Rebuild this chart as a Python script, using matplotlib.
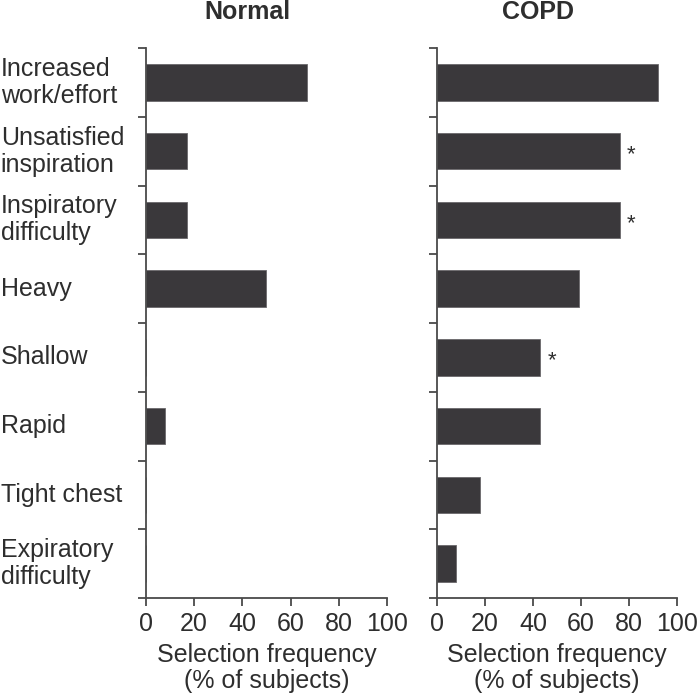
import numpy as np
import matplotlib.pyplot as plt
from matplotlib.transforms import blended_transform_factory

# ---------------------------------------------------------------------------
# Data
# ---------------------------------------------------------------------------
categories = ["Increased\nwork/effort", "Unsatisfied\ninspiration",
              "Inspiratory\ndifficulty", "Heavy", "Shallow", "Rapid",
              "Tight chest", "Expiratory\ndifficulty"]
normal_vals = [67, 17, 17, 50, 0, 8, 0, 0]
copd_vals = [92, 76, 76, 59, 43, 43, 18, 8]
copd_sig = [False, True, True, False, True, False, False, False]
panel_titles = ["Normal", "COPD"]
xticks = [0, 20, 40, 60, 80, 100]
xlabel = "Selection frequency\n(% of subjects)"

BAR_COLOR = "#3a383b"
TEXT_COLOR = "#2e2e2e"
SPINE_COLOR = "#4a4a4a"
FS = 18

plt.rcParams["font.family"] = ["Liberation Sans", "DejaVu Sans"]

fig = plt.figure(figsize=(7, 7), dpi=100)
ax_l = fig.add_axes([0.2086, 0.1457, 0.344, 0.7857])
ax_r = fig.add_axes([0.6239, 0.1457, 0.3437, 0.7857])

n = len(categories)
ypos = np.arange(n)

for ax, vals, title in [(ax_l, normal_vals, panel_titles[0]),
                        (ax_r, copd_vals, panel_titles[1])]:
    ax.barh(ypos, vals, height=0.53, color=BAR_COLOR,
            edgecolor="#6a686b", linewidth=0.6)
    ax.set_xlim(0, 100)
    ax.set_ylim(n - 0.5, -0.5)
    ax.spines["top"].set_visible(False)
    ax.spines["right"].set_visible(False)
    for s in ("left", "bottom"):
        ax.spines[s].set_color(SPINE_COLOR)
        ax.spines[s].set_linewidth(1.3)
    ax.set_yticks(np.arange(n + 1) - 0.5)
    ax.set_yticklabels([])
    ax.tick_params(axis="y", length=6, width=1.3, color=SPINE_COLOR)
    ax.set_xticks(xticks)
    ax.tick_params(axis="x", length=6, width=1.3, color=SPINE_COLOR,
                   labelsize=FS, labelcolor=TEXT_COLOR, pad=4)
    ax.set_xlabel(xlabel, fontsize=FS, color=TEXT_COLOR, labelpad=5,
                  linespacing=1.1)
    # panel title, a bit left of the panel centre as in the reference
    ax.text(42, -1.03, title, ha="center", va="center",
            fontsize=FS, fontweight="bold", color=TEXT_COLOR)

# category labels at the far left of the figure
trans = blended_transform_factory(fig.transFigure, ax_l.transData)
for y, lab in zip(ypos, categories):
    ax_l.text(0.001, y, lab, transform=trans, ha="left", va="center",
              fontsize=FS, color=TEXT_COLOR, linespacing=1.15)

# significance markers on COPD panel
for y, v, sig in zip(ypos, copd_vals, copd_sig):
    if sig:
        ax_r.text(v + 3, y + 0.05, "*", ha="left", va="center",
                  fontsize=16, color=TEXT_COLOR)

fig.savefig("out.png", dpi=100)
